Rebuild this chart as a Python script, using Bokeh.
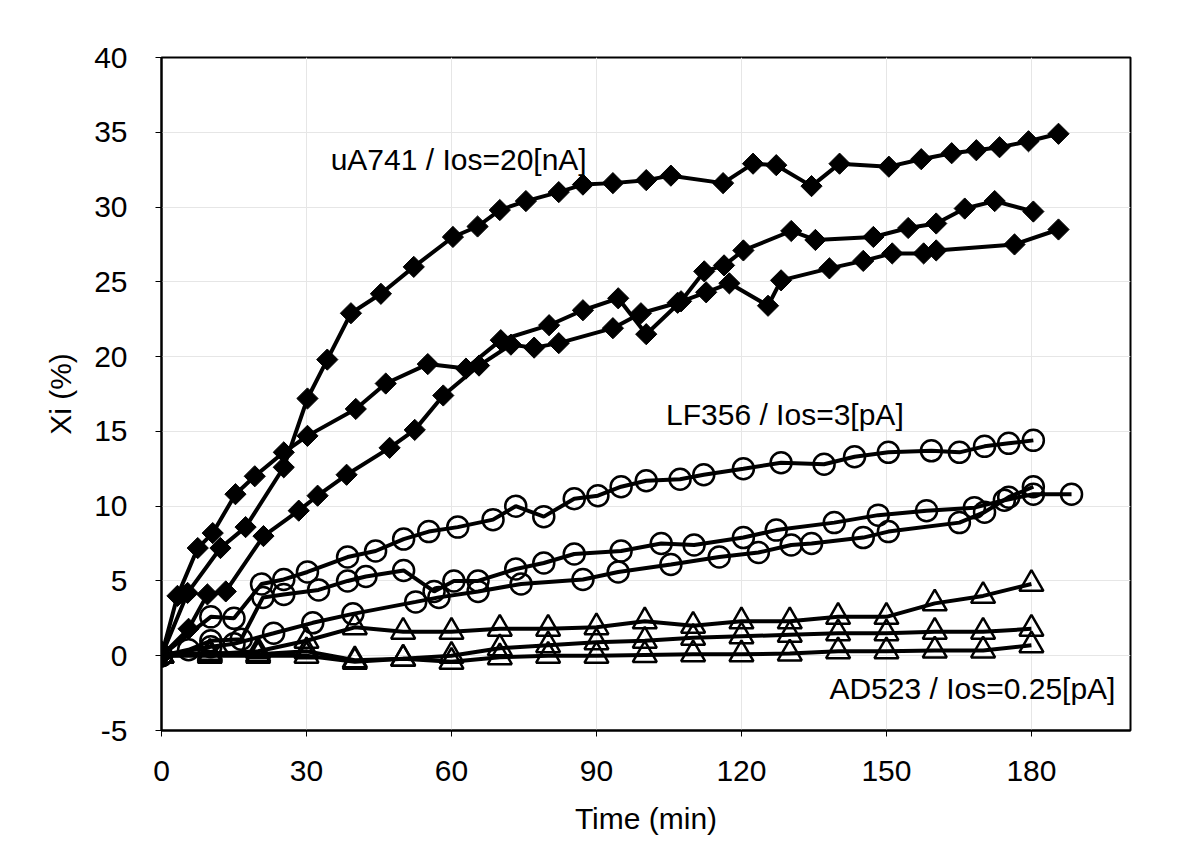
import numpy as np
from bokeh.plotting import figure
from bokeh.models import Range1d, FixedTicker
from bokeh.core.properties import value
from bokeh.embed import file_html
from bokeh.resources import INLINE

# ---- data: uA741 (filled diamonds) ----
ua_a_t = [0, 5.4, 12.2, 17.4, 25.3, 30.2, 34.3, 39.2, 45.4, 52.2, 60.3, 65.4, 70.0, 75.4, 82.2, 87.2, 93.4, 100.3,
          105.4, 116.2, 122.4, 127.2, 134.5, 140.3, 150.5, 157.2, 163.5, 168.6, 173.4, 179.4, 185.6]
ua_a_y = [0, 4.2, 7.2, 8.6, 12.6, 17.2, 19.8, 22.9, 24.2, 26.0, 28.0, 28.7, 29.8, 30.4, 31.0, 31.5, 31.6, 31.8,
          32.1, 31.6, 32.9, 32.8, 31.4, 32.9, 32.7, 33.2, 33.6, 33.8, 34.0, 34.4, 34.9]

ua_b_t = [0, 3.3, 7.5, 10.6, 15.3, 19.3, 25.3, 30.2, 40.2, 46.4, 55.1, 63.0, 70.2, 80.2, 87.2, 94.5, 100.3, 107.5,
          112.3, 116.4, 120.4, 130.3, 135.3, 147.3, 154.5, 160.3, 166.2, 172.4, 180.4]
ua_b_y = [0, 4.0, 7.2, 8.2, 10.8, 12.0, 13.6, 14.7, 16.5, 18.2, 19.5, 19.2, 21.1, 22.1, 23.1, 23.9, 21.5, 23.7,
          25.7, 26.1, 27.1, 28.4, 27.8, 28.0, 28.6, 28.9, 29.9, 30.4, 29.7]

ua_c_t = [0, 5.6, 9.5, 13.3, 21.1, 28.4, 32.3, 38.3, 47.2, 52.4, 58.3, 65.7, 72.3, 77.1, 82.2, 93.4, 99.2, 106.8,
          112.7, 117.5, 125.5, 128.2, 138.2, 145.2, 151.2, 157.7, 160.3, 176.5, 185.6]
ua_c_y = [0, 1.8, 4.1, 4.3, 8.0, 9.7, 10.7, 12.1, 13.9, 15.1, 17.4, 19.4, 20.8, 20.6, 20.9, 21.9, 22.9, 23.6,
          24.3, 24.9, 23.4, 25.1, 25.9, 26.4, 26.9, 26.9, 27.1, 27.5, 28.5]

# ---- data: LF356 (open circles) ----
lf_a_t = [0, 10.2, 15.0, 20.7, 25.3, 30.2, 38.5, 44.3, 50.1, 55.3, 61.3, 68.6, 73.3, 79.1, 85.4, 90.3, 95.1, 100.3,
          107.3, 112.2, 120.4, 128.2, 137.1, 143.4, 150.4, 159.3, 165.1, 170.3, 175.3, 180.4]
lf_a_y = [0, 2.6, 2.5, 4.8, 5.1, 5.6, 6.6, 7.0, 7.8, 8.3, 8.6, 9.1, 10.0, 9.3, 10.5, 10.7, 11.3, 11.7,
          11.8, 12.1, 12.5, 12.9, 12.8, 13.3, 13.6, 13.7, 13.6, 14.0, 14.2, 14.4]

lf_b_t = [0, 5.6, 10.2, 16.5, 21.0, 25.3, 32.5, 38.5, 42.3, 50.1, 56.4, 60.5, 65.5, 73.3, 79.1, 85.4, 95.1, 103.4,
          110.2, 120.4, 127.2, 139.2, 148.3, 158.3, 168.2, 174.4, 180.4, 188.3]
lf_b_y = [0, 0.4, 1.0, 1.1, 3.9, 4.1, 4.4, 5.0, 5.3, 5.7, 4.3, 5.0, 5.0, 5.8, 6.2, 6.8, 7.0, 7.5,
          7.4, 7.9, 8.4, 8.9, 9.4, 9.7, 9.9, 10.4, 10.8, 10.8]

lf_c_t = [0, 10.2, 15.0, 23.2, 31.3, 39.6, 52.6, 57.4, 65.5, 74.4, 87.2, 94.5, 105.4, 115.4, 123.5, 130.3, 134.5,
          145.2, 150.4, 165.1, 170.3, 175.3, 180.4]
lf_c_y = [0, 0.6, 0.8, 1.5, 2.2, 2.8, 3.6, 3.9, 4.3, 4.8, 5.1, 5.6, 6.1, 6.6, 6.9, 7.4, 7.5,
          7.9, 8.3, 8.9, 9.6, 10.6, 11.3]

# ---- data: AD523 (open triangles) ----
ad_t = [0, 10, 20, 30, 40, 50, 60, 70, 80, 90, 100, 110, 120, 130, 140, 150, 160, 170, 180]
ad_a_y = [0, 0.1, 0.3, 1.0, 1.9, 1.6, 1.6, 1.8, 1.8, 1.9, 2.3, 2.0, 2.3, 2.3, 2.6, 2.6, 3.5, 4.0, 4.8]
ad_b_y = [0, 0.2, 0.1, 0.3, -0.3, -0.2, 0.0, 0.5, 0.7, 0.9, 1.0, 1.2, 1.3, 1.4, 1.5, 1.5, 1.6, 1.6, 1.8]
ad_c_y = [0, 0.0, 0.0, 0.0, -0.4, -0.2, -0.4, -0.1, 0.0, 0.0, 0.05, 0.1, 0.1, 0.15, 0.3, 0.3, 0.35, 0.35, 0.7]

x_ticks = [0, 30, 60, 90, 120, 150, 180]
y_ticks = [-5, 0, 5, 10, 15, 20, 25, 30, 35, 40]
y_tick_labels = ["-5", "0", "5", "10", "15", "20", "25", "30", "35", "40"]

labels = ["uA741 / Ios=20[nA]", "LF356 / Ios=3[pA]", "AD523 / Ios=0.25[pA]"]
label_x = [35.0, 104.4, 138.2]
label_y = [33.2, 16.1, -2.2]

FONT = "Liberation Sans"

p = figure(width=1200, height=865, output_backend="svg", toolbar_location=None,
           x_range=Range1d(0, 200.5), y_range=Range1d(-5, 40),
           min_border_left=161, min_border_right=70, min_border_top=57, min_border_bottom=135,
           background_fill_color="white", border_fill_color="white")

p.outline_line_color = "black"
p.outline_line_width = 2

for ax in (p.xaxis[0], p.yaxis[0]):
    ax.axis_line_color = "black"
    ax.axis_line_width = 2
    ax.major_tick_line_color = "black"
    ax.major_tick_line_width = 1
    ax.major_tick_out = 6
    ax.major_tick_in = 0
    ax.minor_tick_line_color = None
    ax.major_label_text_font = FONT
    ax.major_label_text_font_size = "30px"
    ax.major_label_text_color = "black"
    ax.axis_label_text_font = FONT
    ax.axis_label_text_font_size = "30px"
    ax.axis_label_text_font_style = "normal"
    ax.axis_label_text_color = "black"

p.xaxis.ticker = FixedTicker(ticks=x_ticks)
p.yaxis.ticker = FixedTicker(ticks=y_ticks)
p.yaxis.major_label_overrides = {t: s for t, s in zip(y_ticks, y_tick_labels)}
p.xaxis.axis_label = "Time (min)"
p.yaxis.axis_label = "Xi (%)"
p.xaxis.major_label_standoff = 24
p.yaxis.major_label_standoff = 28
p.xaxis.axis_label_standoff = 18
p.yaxis.axis_label_standoff = 14

p.xgrid.grid_line_color = "#e6e6e6"
p.ygrid.grid_line_color = "#e6e6e6"
p.xgrid.grid_line_width = 1
p.ygrid.grid_line_width = 1

LW = 4

# triangles
for ys in (ad_a_y, ad_b_y, ad_c_y):
    p.line(ad_t, ys, line_color="black", line_width=LW)
    p.scatter(ad_t, ys, marker="triangle", size=24, line_color="black", line_width=2.5, fill_alpha=0)

# circles
for ts, ys in ((lf_a_t, lf_a_y), (lf_b_t, lf_b_y), (lf_c_t, lf_c_y)):
    p.line(ts, ys, line_color="black", line_width=LW)
    p.scatter(ts, ys, marker="circle", size=21, line_color="black", line_width=2.5, fill_alpha=0)

# diamonds
for ts, ys in ((ua_a_t, ua_a_y), (ua_b_t, ua_b_y), (ua_c_t, ua_c_y)):
    p.line(ts, ys, line_color="black", line_width=LW)
    p.scatter(ts, ys, marker="square", angle=np.pi / 4, size=15, line_color="black", line_width=1,
              fill_color="black")

p.text(x=label_x, y=label_y, text=labels, text_font=value(FONT), text_font_size="30px",
       text_align="left", text_baseline="middle", text_color="black")

open("out.html", "w").write(file_html(p, INLINE))
